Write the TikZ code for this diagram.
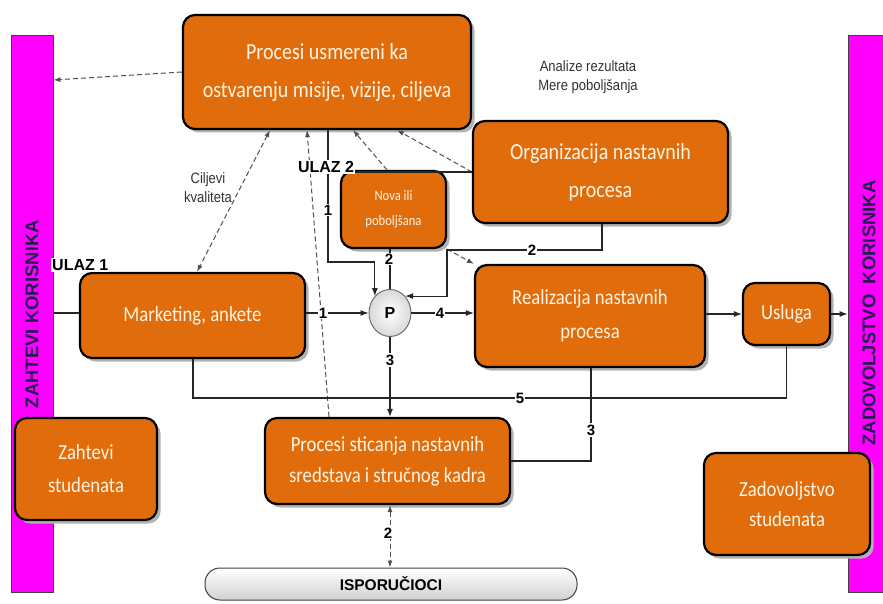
\documentclass[tikz,border=0pt]{standalone}
\usepackage{fontspec}
\setmainfont{Carlito}[FakeStretch=0.87]
\newfontfamily\arialf{Liberation Sans}[FakeStretch=0.87]
\newfontfamily\arialn{Liberation Sans}
\usetikzlibrary{arrows.meta,shadows,shapes.geometric,calc}
\definecolor{boxorange}{RGB}{224,108,12}
\definecolor{barmag}{RGB}{255,0,255}
\definecolor{boxtext}{RGB}{255,244,228}
\definecolor{bartext}{RGB}{35,28,80}
\definecolor{dashgray}{RGB}{80,80,80}
\begin{document}
\begin{tikzpicture}[x=1pt,y=-1pt,
  pbox/.style={draw=black, line width=2.2pt, fill=boxorange, rounded corners=12pt,
    text=boxtext, align=center, inner sep=0pt,
    drop shadow={shadow xshift=3.5pt, shadow yshift=-3.5pt, fill=black!30, opacity=1}},
  bar/.style={draw=black!75, line width=0.8pt, fill=barmag, inner sep=0pt},
  bartxt/.style={text=bartext, font=\arialn\bfseries\fontsize{18.5}{20}\selectfont},
  conn/.style={line width=1.1pt, draw=black!85},
  arr/.style={conn, -{Latex[length=8pt,width=6pt]}},
  dline/.style={line width=1pt, draw=dashgray, dash pattern=on 5pt off 3pt},
  darr/.style={dline, -{Latex[length=7pt,width=5pt]}},
  ddarr/.style={dline, {Latex[length=7pt,width=5pt]}-{Latex[length=7pt,width=5pt]}},
  num/.style={font=\arialn\bfseries\fontsize{15}{15}\selectfont, fill=white, inner sep=1.2pt},
  ulaz/.style={font=\arialn\bfseries\fontsize{16}{16}\selectfont, fill=white, inner sep=1pt},
  note/.style={font=\arialf\fontsize{15}{19}\selectfont, text=black!80, align=center}
]
\useasboundingbox (0,0) rectangle (883,604);
\fill[white] (0,0) rectangle (883,604);

% side bars
\node[bar, minimum width=42pt, minimum height=557pt] (lbar) at (32,313.5) {};
\node[bar, minimum width=44pt, minimum height=557pt] (rbar) at (870,313.5) {};
\node[bartxt, rotate=90] (ltxt) at (32,314) {ZAHTEVI KORISNIKA};
\node[bartxt, rotate=90] (rtxt) at (869,313) {ZADOVOLJSTVO\ \ KORISNIKA};

% boxes
\node[pbox, minimum width=288pt, minimum height=114pt, font=\fontsize{23}{38}\selectfont] (top) at (327,72)
  {Procesi usmereni ka\\ostvarenju misije, vizije, ciljeva};
\node[pbox, minimum width=255pt, minimum height=102pt, font=\fontsize{23}{38}\selectfont] (org) at (600.5,172)
  {Organizacija nastavnih\\procesa};
\node[pbox, minimum width=105pt, minimum height=77pt, font=\fontsize{14.5}{25}\selectfont] (nova) at (393.5,209.5)
  {Nova ili\\poboljšana};
\node[pbox, minimum width=225pt, minimum height=85pt, font=\fontsize{21.5}{34}\selectfont] (mkt) at (192.5,315.5)
  {Marketing, ankete};
\node[pbox, minimum width=230pt, minimum height=102pt, font=\fontsize{21.5}{34}\selectfont] (real) at (590,316)
  {Realizacija nastavnih\\procesa};
\node[pbox, minimum width=87pt, minimum height=62pt, font=\fontsize{21.5}{34}\selectfont] (usl) at (786.5,314)
  {Usluga};
\node[pbox, minimum width=142pt, minimum height=102pt, font=\fontsize{21.5}{33}\selectfont] (zs) at (86,469)
  {Zahtevi\\studenata};
\node[pbox, minimum width=245pt, minimum height=86pt, font=\fontsize{21.5}{31}\selectfont] (psn) at (387.5,461)
  {Procesi sticanja nastavnih\\sredstava i stručnog kadra};
\node[pbox, minimum width=166pt, minimum height=102pt, font=\fontsize{21.5}{30}\selectfont] (zad) at (787,504)
  {Zadovoljstvo\\studenata};
\node[draw=black!75, line width=1pt, rounded corners=15pt, top color=white, bottom color=black!18,
  minimum width=372pt, minimum height=32pt, inner sep=0pt,
  font=\arialn\bfseries\fontsize{15.5}{16}\selectfont] (isp) at (391,584) {ISPORUČIOCI};
\node[ellipse, draw=black!60, line width=0.9pt, inner color=white, outer color=black!15,
  minimum width=42pt, minimum height=47pt, inner sep=0pt,
  font=\arialn\bfseries\fontsize{16}{16}\selectfont] (P) at (390,313) {P};

% dashed connectors
\draw[darr] (top.west) -- (lbar.east |- 0,80);
\draw[ddarr] (top.south -| 270,0) -- (mkt.north -| 197,0);
\draw[darr] (psn.north -| 329,0) -- (top.south -| 307,0);
\draw[darr] (nova.north -| 387,0) -- (top.south -| 353,0);
\draw[darr] (org.west |- 0,172) -- (top.south -| 397,0);
\draw[darr] (nova.south east) -- (real.north west);
\draw[ddarr] (psn.south -| P.south) -- (isp.north -| P.south);

% solid connectors
\draw[conn] (org.west |- 0,172) -- (352,172);
\draw[arr] (top.south -| 328,0) -- (328,262) -| (P.north west);
\draw[conn] (nova.south -| P.north) -- (P.north);
\draw[arr] (org.south -| 602,0) |- (447,250) |- (P.north east);
\draw[arr] (mkt.east |- P.west) -- (P.west);
\draw[arr] (P.east) -- (real.west |- P.east);
\draw[arr] (P.south) -- (psn.north -| P.south);
\draw[conn] (mkt.south -| 193,0) -- (193,398) -| (usl.south);
\draw[conn] (real.south -| 591,0) |- (psn.east);
\draw[arr] (real.east |- usl.west) -- (usl.west);
\draw[arr] (usl.east) -- (rbar.west |- usl.east);
\draw[conn] (lbar.east |- P.west) -- (mkt.west |- P.west);

% labels
\node[ulaz, anchor=west] (u1) at (51,265) {ULAZ 1};
\node[ulaz] (u2) at (326,167) {ULAZ 2};
\node[num] (n1a) at (328,210) {1};
\node[num] (n2a) at (389,259) {2};
\node[num] (n2b) at (532,250) {2};
\node[num] (n1b) at (323,313) {1};
\node[num] (n4) at (440,313) {4};
\node[num] (n3a) at (390,360) {3};
\node[num] (n5) at (520,398) {5};
\node[num] (n3b) at (591,430) {3};
\node[num] (n2c) at (388,533) {2};
\node[note] (cilj) at (208,188) {Ciljevi\\kvaliteta};
\node[note] (anal) at (588,77) {Analize rezultata\\Mere poboljšanja};
\end{tikzpicture}
\end{document}
